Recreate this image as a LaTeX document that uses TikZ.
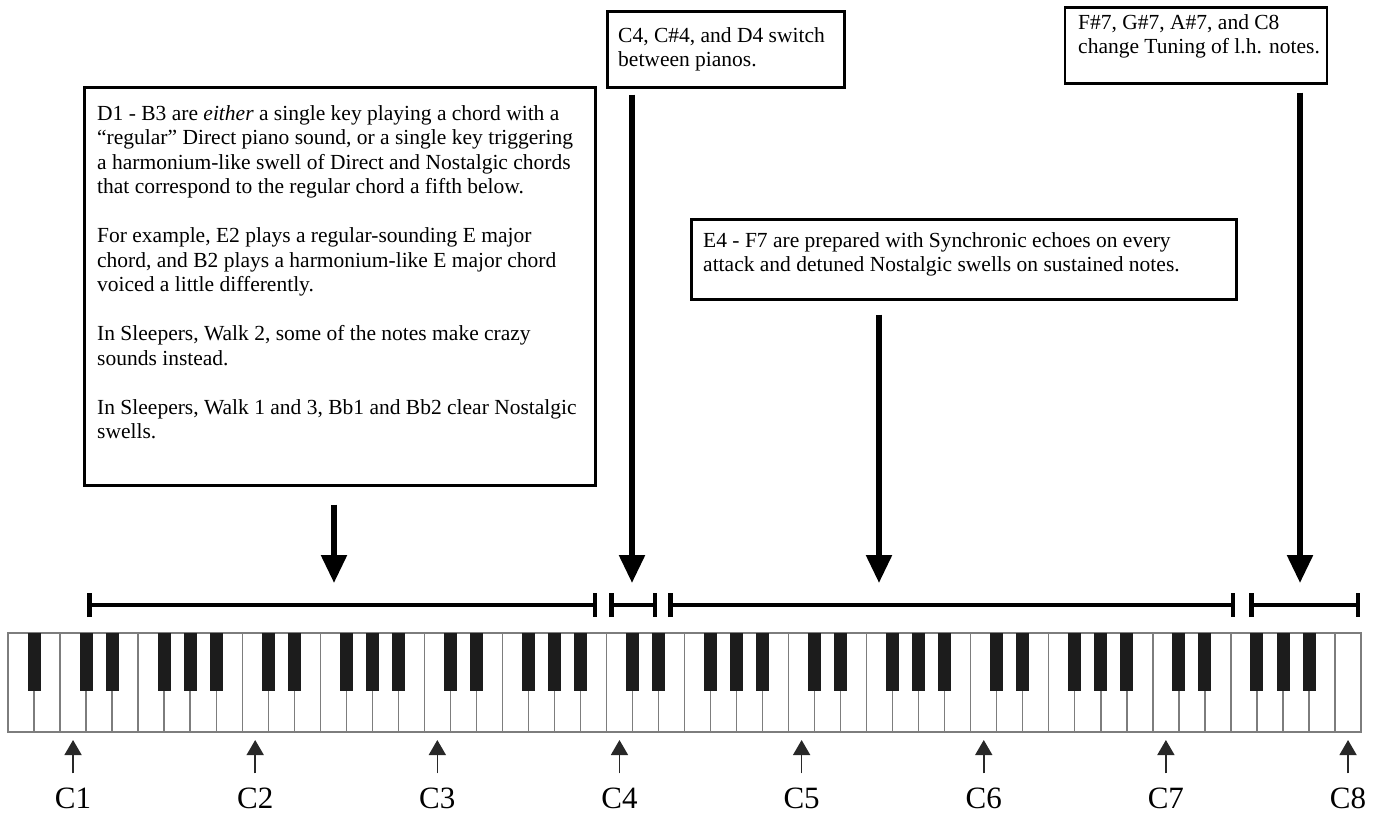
\documentclass[tikz,border=0pt]{standalone}
\usepackage{fontspec}
\setmainfont{Liberation Serif}
\usepackage{xcolor}
\usepackage{tikz}
\usetikzlibrary{positioning,arrows.meta}

\definecolor{keygray}{RGB}{125,125,125}
\definecolor{keyblack}{RGB}{28,28,28}
\definecolor{arrowgray}{RGB}{40,40,40}

\begin{document}
\begin{tikzpicture}[x=1pt, y=-1pt,
    notebox/.style={draw, line width=2.5pt, inner sep=0pt},
    notetext/.style={anchor=north west, inner sep=0pt, align=left,
                     font=\fontsize{21.5}{24.5}\selectfont},
    bigarrow/.style={line width=5.5pt, -{Triangle[width=25pt,length=28pt]}},
    rangebar/.style={line width=4.5pt, {Bar[width=24pt]}-{Bar[width=24pt]}},
    whitekey/.style={draw=keygray, fill=white, line width=1.3pt},
    blackkey/.style={fill=keyblack},
    keyarrow/.style={draw=arrowgray, line width=1.6pt, -{Triangle[width=17pt,length=15pt]}},
    keylabel/.style={font=\fontsize{31}{36}\selectfont, inner sep=0pt}]
    \useasboundingbox (0,0) rectangle (1380,814);

    % Boxes
    \node[notebox, anchor=north west, minimum width=511pt, minimum height=398pt] (boxChord) at (83,86) {};
    \node[notetext] (txtChord) at (97,105) {%
        D1 - B3 are \textit{either} a single key playing a chord with a\\
        “regular” Direct piano sound, or a single key triggering\\
        a harmonium-like swell of Direct and Nostalgic chords\\
        that correspond to the regular chord a fifth below.\\[24.5pt]
        For example, E2 plays a regular-sounding E major\\
        chord, and B2 plays a harmonium-like E major chord\\
        voiced a little differently.\\[24.5pt]
        In Sleepers, Walk 2, some of the notes make crazy\\
        sounds instead.\\[24.5pt]
        In Sleepers, Walk 1 and 3, Bb1 and Bb2 clear Nostalgic\\
        swells.};

    \node[notebox, anchor=north west, minimum width=237pt, minimum height=76pt] (boxSwitch) at (606,10) {};
    \node[notetext] (txtSwitch) at (618,27) {C4, C\#4, and D4 switch\\ between pianos.};

    \node[notebox, anchor=north west, minimum width=545pt, minimum height=80pt] (boxSync) at (690,218) {};
    \node[notetext] (txtSync) at (703,232) {E4 - F7 are prepared with Synchronic echoes on every\\
        attack and detuned Nostalgic swells on sustained notes.};

    \node[notebox, anchor=north east, minimum width=262pt, minimum height=76pt] (boxTuning) at (1328,6) {};
    \node[notetext] (txtTuning) at (1078,14) {F\#7, G\#7, A\#7, and C8\\ change Tuning of l.h. notes.};

    % Ranges
    \coordinate (chordL) at (87,605);   \coordinate (chordR) at (597,605);
    \coordinate (switchL) at (609,605); \coordinate (switchR) at (657,605);
    \coordinate (syncL) at (668,605);   \coordinate (syncR) at (1235,605);
    \coordinate (tuneL) at (1249,605);  \coordinate (tuneR) at (1360,605);
    \draw[rangebar] (chordL) -- (chordR);
    \draw[rangebar] (switchL) -- (switchR);
    \draw[rangebar] (syncL) -- (syncR);
    \draw[rangebar] (tuneL) -- (tuneR);

    \coordinate (tipChord) at (334,605);
    \coordinate (tipSwitch) at (632,605);
    \coordinate (tipSync) at (879,605);
    \coordinate (tipTuning) at (1300,605);
    \draw[bigarrow, shorten <=18pt, shorten >=22pt] (boxChord.south -| tipChord) -- (tipChord);
    \draw[bigarrow, shorten <=6pt, shorten >=22pt] (boxSwitch.south -| tipSwitch) -- (tipSwitch);
    \draw[bigarrow, shorten <=14pt, shorten >=22pt] (boxSync.south -| tipSync) -- (tipSync);
    \draw[bigarrow, shorten <=8pt, shorten >=22pt] (boxTuning.south -| tipTuning) -- (tipTuning);

    % Keyboard
    \foreach \i in {0,...,51}
        \draw[whitekey] ({8+26.02*\i},633) rectangle ++(26.02,99);
    \fill[blackkey] ({8+26.02-6.5},633) rectangle ++(13,58);
    \foreach \o in {0,...,6}
        \foreach \k in {0,1,3,4,5}
            \fill[blackkey] ({8+26.02*(3+7*\o+\k)-6.5},633) rectangle ++(13,58);

    % C labels
    \foreach \n in {1,...,8} {
        \coordinate (key\n) at ({182.14*\n-109.09},732);
        \node[keylabel] (lab\n) at ({182.14*\n-109.09},798) {C\n};
        \draw[keyarrow, shorten <=14pt, shorten >=8pt] (lab\n) -- (key\n);
    }
\end{tikzpicture}
\end{document}
